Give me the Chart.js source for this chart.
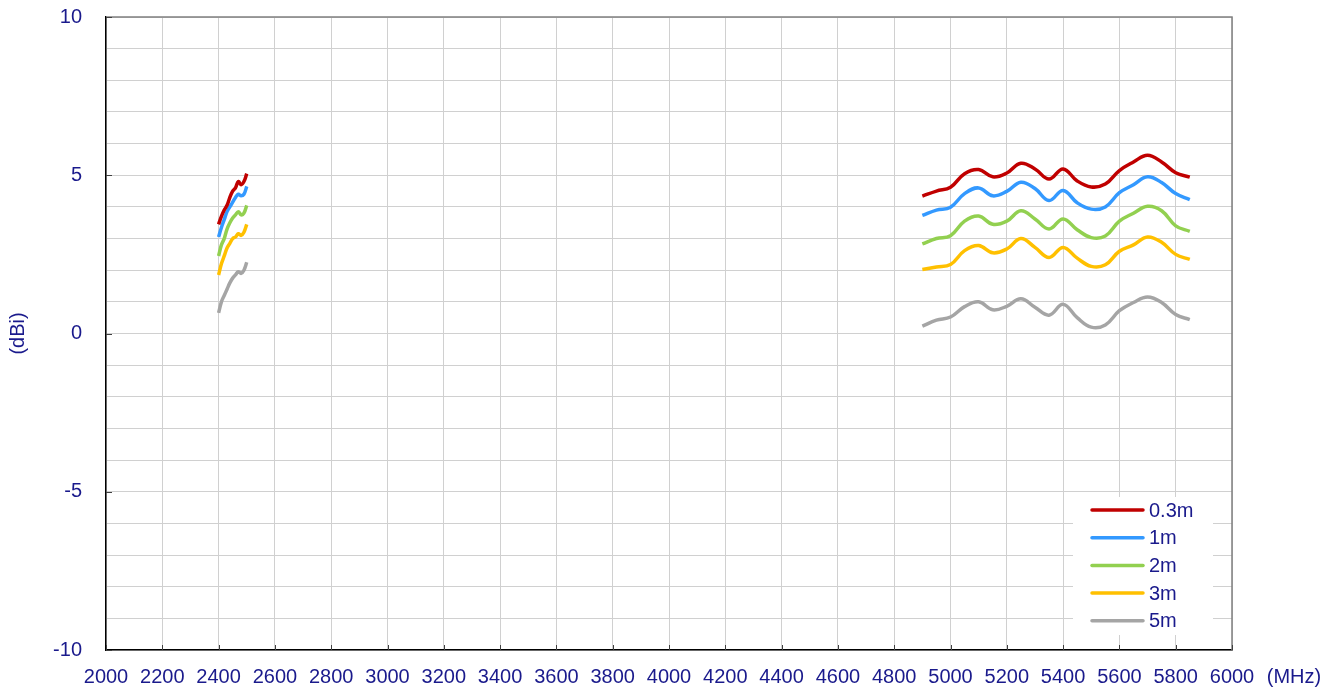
<!DOCTYPE html>
<html>
<head>
<meta charset="utf-8">
<script src="https://cdn.jsdelivr.net/npm/chart.js@4.4.1/dist/chart.umd.min.js"></script>
<style>
    html, body { margin: 0; padding: 0; background: #fff; }
    #wrap { position: relative; width: 1338px; height: 689px; }
</style>
</head>
<body>
<div id="wrap"><canvas id="gain" width="1338" height="689"></canvas></div>
<script>
// frequencies (MHz) for the two bands
const freq24 = [2400, 2410, 2420, 2430, 2440, 2450, 2460, 2470, 2480, 2490, 2500];
const freq5 = [4900, 4950, 5000, 5050, 5100, 5150, 5200, 5250, 5300, 5350,
               5400, 5450, 5500, 5550, 5600, 5650, 5700, 5750, 5800, 5850];

const labels = ['0.3m', '1m', '2m', '3m', '5m'];
const colors = ['#c00000', '#3399ff', '#92d050', '#ffc000', '#a5a5a5'];

// gain (dBi), 2.4 GHz band
const gain24_03 = [3.45, 3.7, 3.9, 4.05, 4.3, 4.5, 4.6, 4.8, 4.7, 4.8, 5.05];
const gain24_1 = [3.05, 3.35, 3.6, 3.85, 4.0, 4.15, 4.3, 4.4, 4.35, 4.4, 4.65];
const gain24_2 = [2.45, 2.8, 3.0, 3.3, 3.5, 3.65, 3.75, 3.85, 3.75, 3.8, 4.05];
const gain24_3 = [1.85, 2.2, 2.45, 2.7, 2.85, 3.0, 3.05, 3.15, 3.1, 3.2, 3.45];
const gain24_5 = [0.65, 1.0, 1.2, 1.4, 1.6, 1.75, 1.85, 1.95, 1.9, 2.0, 2.25];

// gain (dBi), 5 GHz band
const gain5_03 = [4.34, 4.5, 4.62, 5.05, 5.18, 4.95, 5.07, 5.38, 5.2, 4.88,
                  5.2, 4.82, 4.63, 4.72, 5.15, 5.42, 5.63, 5.42, 5.08, 4.94];
const gain5_1 = [3.73, 3.9, 3.99, 4.42, 4.6, 4.35, 4.49, 4.78, 4.58, 4.2,
                 4.52, 4.13, 3.93, 4.0, 4.45, 4.7, 4.95, 4.77, 4.42, 4.23];
const gain5_2 = [2.83, 3.0, 3.09, 3.55, 3.71, 3.45, 3.55, 3.88, 3.62, 3.3,
                 3.62, 3.28, 3.03, 3.08, 3.55, 3.8, 4.02, 3.88, 3.4, 3.23];
const gain5_3 = [2.02, 2.1, 2.18, 2.62, 2.78, 2.55, 2.67, 3.0, 2.72, 2.4,
                 2.72, 2.38, 2.12, 2.17, 2.6, 2.8, 3.05, 2.88, 2.5, 2.34];
const gain5_5 = [0.23, 0.42, 0.52, 0.85, 1.0, 0.75, 0.86, 1.1, 0.83, 0.58,
                 0.92, 0.5, 0.2, 0.27, 0.72, 0.98, 1.15, 0.98, 0.6, 0.44];

const bands24 = [gain24_03, gain24_1, gain24_2, gain24_3, gain24_5];
const bands5 = [gain5_03, gain5_1, gain5_2, gain5_3, gain5_5];

const navy = '#1a1a8c';
const font = '"Liberation Sans", Arial, sans-serif';

// one dataset per cable length, with a gap between the bands
const datasets = labels.map((label, i) => ({
    label: label,
    data: [
        ...freq24.map((f, k) => ({ x: f, y: bands24[i][k] })),
        { x: 3700, y: null },
        ...freq5.map((f, k) => ({ x: f, y: bands5[i][k] }))
    ],
    borderColor: colors[i],
    backgroundColor: colors[i],
    borderWidth: 3.5,
    pointRadius: 0,
    tension: 0.4,
    spanGaps: false
}));

// gray top/right border, inward tick marks and the unit label
const framePlugin = {
    id: 'frame',
    beforeDatasetsDraw(chart) {
        const { ctx, chartArea: a, scales } = chart;
        ctx.save();
        ctx.strokeStyle = '#808080';
        ctx.lineWidth = 1.5;
        ctx.beginPath();
        ctx.moveTo(a.left, a.top);
        ctx.lineTo(a.right, a.top);
        ctx.lineTo(a.right, a.bottom);
        ctx.stroke();

        ctx.strokeStyle = '#404040';
        ctx.lineWidth = 1;
        scales.x.ticks.forEach(t => {
            const x = Math.round(scales.x.getPixelForValue(t.value)) + 0.5;
            ctx.beginPath();
            ctx.moveTo(x, a.bottom);
            ctx.lineTo(x, a.bottom - 5);
            ctx.stroke();
        });
        scales.y.ticks.forEach(t => {
            if (t.value % 5 !== 0) return;
            const y = Math.round(scales.y.getPixelForValue(t.value)) + 0.5;
            ctx.beginPath();
            ctx.moveTo(a.left, y);
            ctx.lineTo(a.left + 6, y);
            ctx.stroke();
        });

        ctx.fillStyle = navy;
        ctx.font = '20px ' + font;
        ctx.textAlign = 'center';
        ctx.textBaseline = 'middle';
        ctx.fillText('(MHz)', a.right + 62, a.bottom + 27);
        ctx.restore();
    }
};

// legend box in the lower right corner of the plot
const legendPlugin = {
    id: 'boxLegend',
    afterDatasetsDraw(chart) {
        const { ctx, chartArea: a } = chart;
        const left = a.right - 159;
        const top = a.bottom - 153;
        ctx.save();
        ctx.fillStyle = '#ffffff';
        ctx.fillRect(left, top, 140, 138);
        ctx.font = '20px ' + font;
        ctx.textBaseline = 'middle';
        chart.data.datasets.forEach((ds, i) => {
            const y = top + 13 + i * 27.7;
            ctx.strokeStyle = ds.borderColor;
            ctx.lineWidth = 3.5;
            ctx.lineCap = 'round';
            ctx.beginPath();
            ctx.moveTo(left + 19, y);
            ctx.lineTo(left + 70, y);
            ctx.stroke();
            ctx.fillStyle = navy;
            ctx.fillText(ds.label, left + 76, y + 1);
        });
        ctx.restore();
    }
};

new Chart(document.getElementById('gain'), {
    type: 'line',
    data: { datasets: datasets },
    options: {
        responsive: false,
        animation: false,
        layout: { padding: { top: 17, right: 106, left: 0, bottom: 0 } },
        plugins: {
            legend: { display: false },
            tooltip: { enabled: false }
        },
        scales: {
            x: {
                type: 'linear',
                min: 2000,
                max: 6000,
                ticks: {
                    stepSize: 200,
                    color: navy,
                    font: { size: 20, family: font },
                    padding: 15,
                    maxRotation: 0,
                    autoSkip: false,
                    callback: v => String(v)
                },
                grid: { color: '#d0d0d0', drawTicks: false },
                border: { color: '#000000', width: 1.5 },
                afterFit: s => { s.height = 39; }
            },
            y: {
                min: -10,
                max: 10,
                ticks: {
                    stepSize: 1,
                    color: navy,
                    font: { size: 20, family: font },
                    padding: 24,
                    autoSkip: false,
                    callback: v => (v % 5 === 0 ? String(v) : '')
                },
                grid: { color: '#d0d0d0', drawTicks: false },
                border: { color: '#000000', width: 1.5 },
                title: {
                    display: true,
                    text: '(dBi)',
                    color: navy,
                    font: { size: 20, family: font },
                    padding: { top: 6, bottom: 0 }
                },
                afterFit: s => {
                    s.width = 106;
                    s.paddingTop = 0;
                    s.paddingBottom = 0;
                }
            }
        }
    },
    plugins: [framePlugin, legendPlugin]
});
</script>
</body>
</html>
